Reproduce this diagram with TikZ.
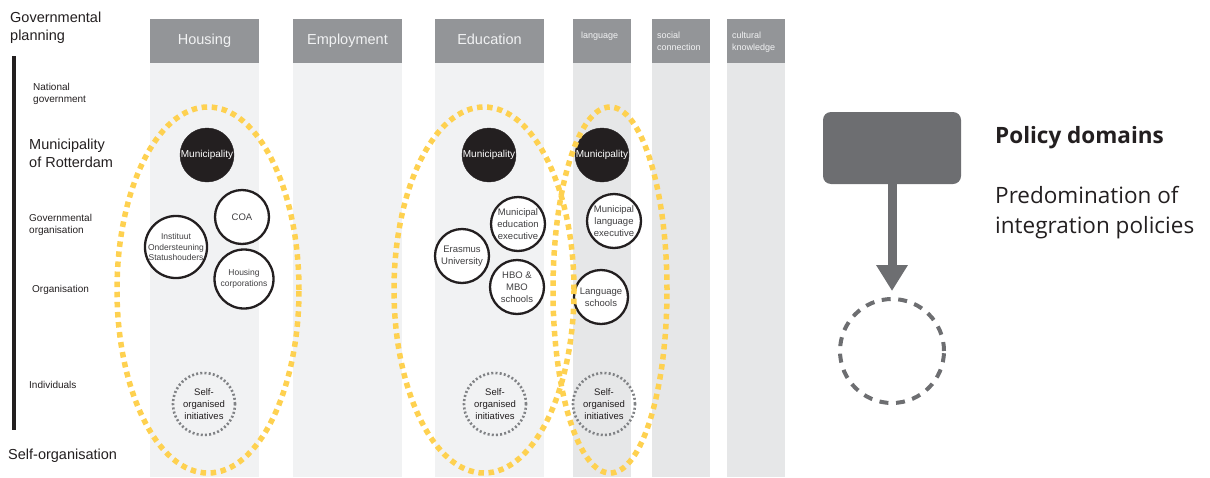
\documentclass[tikz,border=0pt]{standalone}
\usepackage{fontspec}
\setmainfont{Liberation Sans}
\newfontfamily\legfont{Open Sans}
\usetikzlibrary{arrows.meta}
\definecolor{hdrgray}{HTML}{939598}
\definecolor{bodyA}{HTML}{F1F2F3}
\definecolor{bodyB}{HTML}{E6E7E8}
\definecolor{ink}{HTML}{231F20}
\definecolor{txt}{HTML}{414042}
\definecolor{yel}{HTML}{FED150}
\definecolor{dotgray}{HTML}{808285}
\definecolor{leg}{HTML}{6D6E71}
\begin{document}
\begin{tikzpicture}[x=1pt,y=-1pt,
  lbl/.style={anchor=base west, inner sep=0, text=ink},
  bigl/.style={lbl, font=\fontsize{14.5}{17.5}\selectfont, align=left},
  smalll/.style={lbl, font=\fontsize{10}{12}\selectfont, align=left},
  hdr/.style={fill=hdrgray, inner sep=0, minimum height=44pt, text=bodyA},
  hdrbig/.style={font=\fontsize{14.5}{17}\selectfont, text height=10pt, text depth=3pt},
  hdrsmall/.style={anchor=base west, inner sep=0, text=bodyA, align=left, font=\fontsize{9}{12.5}\selectfont},
  actor/.style={circle, draw=ink, line width=2.3pt, fill=white, inner sep=0, align=center, text=txt, minimum size=54pt, font=\fontsize{9.5}{11.8}\selectfont},
  actorsm/.style={actor, font=\fontsize{8.5}{10.5}\selectfont},
  muni/.style={circle, fill=ink, draw=ink, text=white, minimum size=54pt, inner sep=0, font=\fontsize{10}{12}\selectfont},
  selforg/.style={circle, draw=dotgray, line width=2.6pt, dash pattern=on 2pt off 2.2pt, minimum size=62pt, inner sep=0, align=center, text=ink, font=\fontsize{9.5}{11.8}\selectfont},
  yelring/.style={draw=yel, line width=5.5pt, dash pattern=on 5.5pt off 4.6pt}
]
\useasboundingbox (0,0) rectangle (1210,477);
% column bodies
\fill[bodyA] (150,63) rectangle (259,477);
\fill[bodyA] (293,63) rectangle (402,477);
\fill[bodyA] (435,63) rectangle (544,477);
\fill[bodyB] (573,63) rectangle (631,477);
\fill[bodyB] (652,63) rectangle (710,477);
\fill[bodyB] (727,63) rectangle (785,477);
% headers
\node[hdr, hdrbig, minimum width=109pt] (hHou) at (204.5,41) {Housing};
\node[hdr, hdrbig, minimum width=109pt] (hEmp) at (347.5,41) {Employment};
\node[hdr, hdrbig, minimum width=109pt] (hEdu) at (489.5,41) {Education};
\node[hdr, minimum width=58pt] (hLan) at (602,41) {};
\node[hdr, minimum width=58pt] (hSoc) at (681,41) {};
\node[hdr, minimum width=58pt] (hCul) at (756,41) {};
\node[hdrsmall] (tLan) at (581,38) {language};
\node[hdrsmall] (tSoc) at (657,50.5) {social\\connection};
\node[hdrsmall] (tCul) at (732,50.5) {cultural\\knowledge};
% left scale
\fill[ink] (11.5,56) rectangle (16,430);
\node[bigl] (gp) at (10,40) {Governmental\\planning};
\node[smalll] (ng) at (33,102) {National\\government};
\node[bigl] (mr) at (29,167) {Municipality\\of Rotterdam};
\node[smalll] (go) at (29,233) {Governmental\\organisation};
\node[smalll] (org) at (32,292) {Organisation};
\node[smalll] (ind) at (29,388) {Individuals};
\node[bigl] (so) at (8,459) {Self-organisation};
% Housing actors
\node[muni] (hM) at (207,155) {Municipality};
\node[actor, minimum size=54pt] (coa) at (242,217) {COA};
\node[actorsm, minimum size=57pt] (ios) at (176,247) {Instituut\\Ondersteuning\\Statushouders};
\node[actorsm, minimum size=59pt] (hc) at (244,279) {Housing\\corporations};
\node[selforg] (hS) at (204,404) {Self-\\organised\\initiatives};
% Education actors
\node[muni] (eM) at (489,155) {Municipality};
\node[actor] (mee) at (518,224) {Municipal\\education\\executive};
\node[actor] (eu) at (462,256) {Erasmus\\University};
\node[actor] (hbo) at (517,287) {HBO \&\\MBO\\schools};
\node[selforg] (eS) at (495,404) {Self-\\organised\\initiatives};
% Language actors
\node[muni] (lM) at (602,155) {Municipality};
\node[actor] (mle) at (614,221) {Municipal\\language\\executive};
\node[actor] (ls) at (601,297) {Language\\schools};
\node[selforg] (lS) at (604,404) {Self-\\organised\\initiatives};
% yellow dotted ellipses
\draw[yelring] (208,290) ellipse [x radius=91pt, y radius=183pt];
\draw[yelring] (484,290) ellipse [x radius=90pt, y radius=183pt];
\draw[yelring] (610,290) ellipse [x radius=57pt, y radius=183pt];
% legend
\node[fill=leg, rounded corners=8pt, minimum width=138pt, minimum height=72pt, inner sep=0] (box) at (892,148) {};
\node[circle, draw=leg, line width=4pt, dash pattern=on 9pt off 7.6pt, minimum size=104pt, inner sep=0] (circ) at (892,351) {};
\draw[leg, line width=9pt, -{Triangle[width=30pt,length=26pt]}] (box.south) -- ([yshift=6pt]circ.north);
\node[anchor=base west, inner sep=0, text=ink, font=\legfont\bfseries\fontsize{22.5}{25}\selectfont] (pd) at (995,143) {Policy domains};
\node[anchor=base west, inner sep=0, text=ink, align=left, font=\legfont\fontsize{22.5}{30}\selectfont] (pi) at (995,233) {Predomination of\\integration policies};
\end{tikzpicture}
\end{document}
